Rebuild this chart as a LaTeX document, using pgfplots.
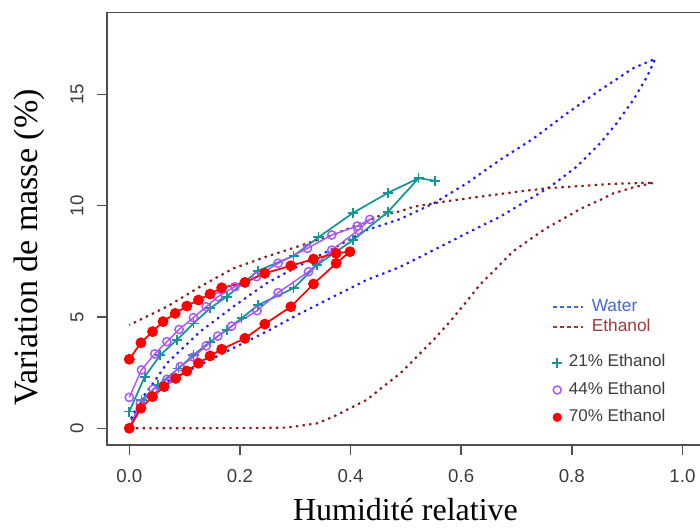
\documentclass[border=0pt]{standalone}
\usepackage{fontspec}
\setmainfont{Liberation Sans}
\newfontfamily\serif{Liberation Serif}
\usepackage{pgfplots}
\pgfplotsset{compat=1.18}

\definecolor{axgray}{RGB}{80,80,80}
\definecolor{tickgray}{RGB}{60,60,60}
\definecolor{wat}{RGB}{30,30,255}
\definecolor{eth}{RGB}{140,30,30}
\definecolor{watleg}{RGB}{70,100,225}
\definecolor{ethleg}{RGB}{170,55,55}
\definecolor{c21}{RGB}{20,150,150}
\definecolor{c44}{RGB}{170,85,255}
\definecolor{c70}{RGB}{255,0,0}

\pgfplotsset{
  dotline/.style={line width=1.6pt, dash pattern=on 1.8pt off 3.2pt},
  markleg/.style={legend image code/.code={\draw[##1] plot coordinates {(4pt,0pt)};}},
  lineleg/.style={legend image code/.code={\draw[##1] (0pt,0pt) -- (22.5pt,0pt);}},
}

\begin{document}
\begin{tikzpicture}
\begin{axis}[name=ax, scale only axis, width=447.75pt, height=324.3pt,
  xmin=-0.0403, xmax=1.039, ymin=-0.75, ymax=18.67,
  axis line style={draw=axgray, line width=1.1pt},
  tick align=outside, xtick pos=bottom, ytick pos=left,
  major tick length=7.5pt, tick style={draw=axgray, line width=1.1pt},
  xtick={0,0.2,0.4,0.6,0.8,1.0}, ytick={0,5,10,15},
  /pgf/number format/assume math mode=true,
  ticklabel style={font=\fontsize{14}{16}\selectfont, text=tickgray},
  xticklabel style={yshift=-7.5pt, /pgf/number format/.cd, fixed, fixed zerofill, precision=1},
  yticklabel style={xshift=-6.5pt, rotate=90, anchor=south},
  xlabel={Humidité relative}, ylabel={Variation de masse (\%)},
  every axis x label/.style={at={(axis description cs:0.5,0)}, yshift=-48.5pt,
    anchor=center, inner sep=0pt, font=\serif\fontsize{24}{28}\selectfont},
  every axis y label/.style={at={(axis description cs:0,0.457)}, xshift=-58.5pt,
    rotate=90, anchor=center, inner sep=0pt, font=\serif\fontsize{25.5}{28}\selectfont},
  legend style={at={(axis cs:0.764,1.72)}, anchor=west, draw=none, fill=none,
    inner sep=0pt, row sep=8pt, font=\fontsize{12.75}{14}\selectfont,
    nodes={inner sep=0pt, text height=9.5pt, text depth=3pt},
    /tikz/every odd column/.append style={column sep=5pt}},
  legend cell align=left,
]
% Water
\addplot[wat, dotline, forget plot] coordinates {
(0,0.1) (0.007,0.52) (0.037,1.5) (0.068,2.1) (0.128,2.85) (0.188,3.6) (0.248,4.34)
(0.309,5.16) (0.369,5.91) (0.429,6.66) (0.49,7.25) (0.55,8.0) (0.61,8.76) (0.67,9.5)
(0.731,10.4) (0.761,10.85) (0.809,11.75) (0.851,12.8) (0.881,13.7) (0.911,14.74)
(0.936,15.79) (0.951,16.6)
(0.911,16.17) (0.851,15.19) (0.791,14.14) (0.731,13.02) (0.67,12.05) (0.61,11.0)
(0.55,10.1) (0.49,9.4) (0.429,8.9) (0.369,8.08) (0.309,7.33) (0.248,6.51) (0.188,5.46)
(0.128,4.34) (0.068,2.92) (0.043,2.02) (0.025,1.42) (0,0.3)
};
% Ethanol
\addplot[eth, dotline, forget plot] coordinates {
(0,0) (0.1,0) (0.2,0.01) (0.285,0.03) (0.339,0.22) (0.369,0.52) (0.399,0.9) (0.429,1.27)
(0.459,1.87) (0.49,2.47) (0.52,3.22) (0.55,3.97) (0.58,4.8) (0.61,5.7) (0.634,6.45)
(0.67,7.35) (0.694,7.95) (0.731,8.6) (0.755,9.0) (0.791,9.5) (0.815,9.85) (0.851,10.25)
(0.875,10.55) (0.911,10.82) (0.948,11.03)
(0.875,10.98) (0.815,10.88) (0.755,10.78) (0.694,10.6) (0.634,10.4) (0.574,10.2)
(0.514,9.95) (0.49,9.75) (0.453,9.55) (0.429,9.3) (0.369,8.7) (0.309,8.2) (0.248,7.71)
(0.188,7.18) (0.128,6.36) (0.068,5.46) (0,4.64)
};
% 21% Ethanol
\addplot[c21, line width=1.3pt, mark=+, mark size=3.8pt, forget plot] coordinates {
(0,0) (0.022,1.27) (0.052,1.94) (0.089,2.69) (0.116,3.29) (0.146,3.89) (0.176,4.41)
(0.203,4.94) (0.233,5.54) (0.297,6.29) (0.339,7.33) (0.405,8.46) (0.468,9.73)
(0.523,11.23) (0.553,11.12) (0.523,11.23)
(0.468,10.58) (0.405,9.68) (0.342,8.58) (0.297,7.74) (0.233,7.08) (0.176,5.91)
(0.146,5.39) (0.116,4.71) (0.086,3.97) (0.056,3.29) (0.028,2.32) (0,0.75)
};
% 44% Ethanol
\addplot[c44, line width=1.1pt, mark=o, mark size=3.1pt, forget plot] coordinates {
(0,0) (0.02,1.1) (0.043,1.75) (0.068,2.2) (0.092,2.77) (0.116,3.2) (0.139,3.7)
(0.160,4.14) (0.185,4.59) (0.231,5.28) (0.269,6.09) (0.324,7.03) (0.366,8.0)
(0.414,8.9) (0.435,9.38)
(0.412,9.08) (0.366,8.68) (0.322,8.08) (0.269,7.41) (0.230,6.81) (0.191,6.36)
(0.160,5.91) (0.139,5.46) (0.116,4.97) (0.090,4.44) (0.068,3.89) (0.046,3.34)
(0.022,2.62) (0,1.39)
};
% 70% Ethanol
\addplot[c70, line width=1.3pt, mark=*, mark size=3.4pt, forget plot] coordinates {
(0,0) (0.021,0.9) (0.042,1.42) (0.063,1.87) (0.084,2.24) (0.104,2.57) (0.125,2.92)
(0.146,3.25) (0.167,3.55) (0.209,4.04) (0.245,4.68) (0.292,5.46) (0.333,6.48)
(0.374,7.41) (0.399,7.93)
(0.374,7.86) (0.333,7.6) (0.292,7.3) (0.245,6.96) (0.209,6.55) (0.167,6.31)
(0.146,6.03) (0.125,5.76) (0.104,5.49) (0.083,5.16) (0.061,4.79) (0.042,4.34)
(0.021,3.84) (0,3.1)
};
\addlegendimage{c21, only marks, mark=+, mark size=3.8pt, line width=1.3pt, markleg}
\addlegendentry{\textcolor{tickgray}{21\% Ethanol}}
\addlegendimage{c44, only marks, mark=o, mark size=3pt, line width=1.1pt, markleg}
\addlegendentry{\textcolor{tickgray}{44\% Ethanol}}
\addlegendimage{c70, only marks, mark=*, mark size=3.2pt, markleg}
\addlegendentry{\textcolor{tickgray}{70\% Ethanol}}
\end{axis}

\begin{axis}[at={(ax.south west)}, anchor=south west, scale only axis,
  width=447.75pt, height=324.3pt,
  xmin=-0.0403, xmax=1.039, ymin=-0.75, ymax=18.67, hide axis,
  legend style={at={(axis cs:0.764,5.01)}, anchor=west, draw=none, fill=none,
    inner sep=0pt, row sep=2.5pt, font=\fontsize{13}{14}\selectfont,
    nodes={inner sep=0pt, text height=9.5pt, text depth=3pt},
    /tikz/every odd column/.append style={column sep=6pt}},
  legend cell align=left,
]
\addlegendimage{watleg, line width=1.2pt, dash pattern=on 3pt off 2.3pt, lineleg}
\addlegendentry{\textcolor{watleg}{Water}}
\addlegendimage{ethleg, line width=1.2pt, dash pattern=on 3pt off 2.3pt, lineleg}
\addlegendentry{\textcolor{ethleg}{Ethanol}}
\end{axis}

\pgfresetboundingbox
\path[use as bounding box] ([xshift=-80.25pt,yshift=-63.75pt]ax.south west)
  rectangle ([xshift=444.75pt,yshift=9.45pt]ax.north west);
\end{tikzpicture}
\end{document}
